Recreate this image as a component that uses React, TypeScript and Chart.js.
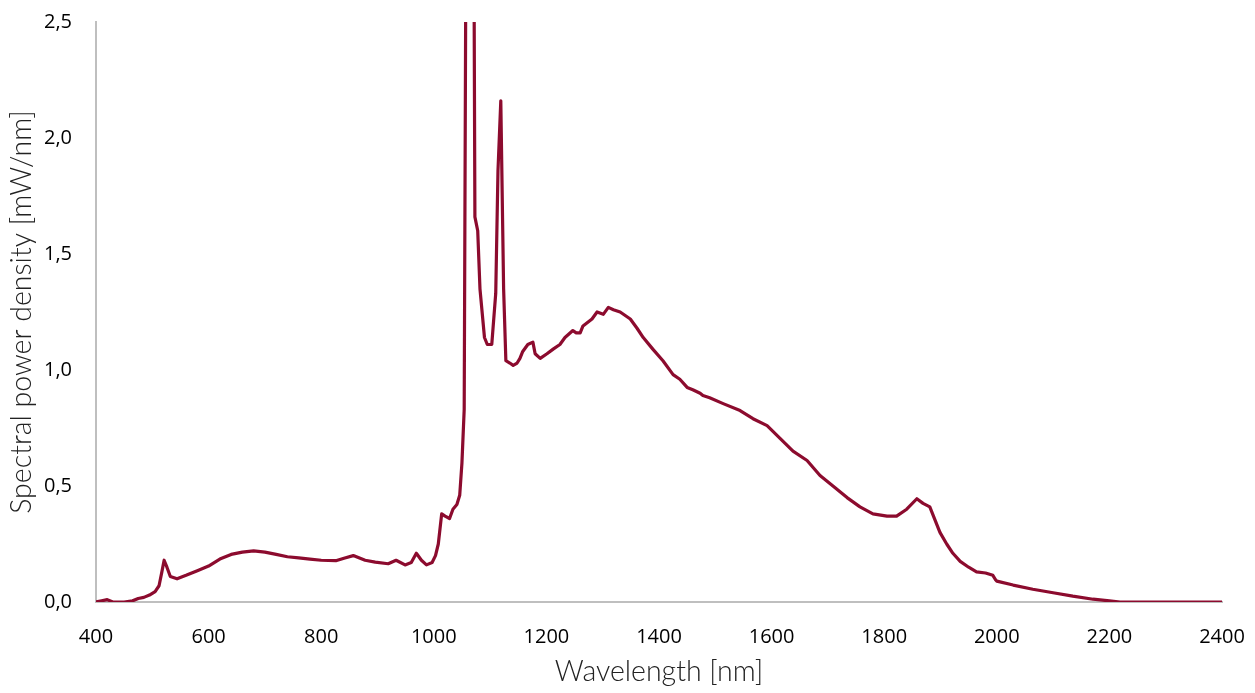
import React, { useEffect, useRef } from "react";
import { Chart, registerables } from "chart.js";

Chart.register(...registerables);

const wavelengthNm = [
  400, 410, 420, 430, 450, 465, 475, 485, 495, 505, 512, 517, 521, 526, 532, 544, 560, 580, 600, 620,
  640, 660, 680, 700, 720, 740, 760, 780, 800, 826, 842, 857, 878, 896, 919, 933, 949, 960, 969, 978,
  987, 997, 1003, 1008, 1014, 1020, 1028, 1034, 1041, 1046, 1050, 1054, 1057, 1064, 1071, 1073, 1078,
  1082, 1090, 1095, 1103, 1110, 1114, 1119, 1124, 1128, 1135, 1141, 1148, 1153, 1158, 1167, 1176, 1180,
  1189, 1201, 1212, 1224, 1233, 1247, 1253, 1260, 1265, 1281, 1290, 1301, 1310, 1319, 1331, 1349, 1361,
  1372, 1389, 1407, 1425, 1437, 1450, 1460, 1473, 1478, 1490, 1514, 1544, 1567, 1592, 1615, 1638, 1663,
  1686, 1709, 1734, 1757, 1780, 1805, 1822, 1840, 1858, 1869, 1881, 1899, 1911, 1922, 1935, 1950, 1964,
  1980, 1993, 1998, 2000, 2029, 2064, 2100, 2135, 2171, 2200, 2219, 2300, 2400,
];

const powerDensity = [
  0.0, 0.005, 0.01, 0.0, 0.0, 0.005, 0.015, 0.02, 0.03, 0.045, 0.07, 0.13, 0.18, 0.15, 0.11, 0.1, 0.115,
  0.135, 0.155, 0.185, 0.205, 0.215, 0.22, 0.215, 0.205, 0.195, 0.19, 0.185, 0.18, 0.178, 0.19, 0.2,
  0.18, 0.172, 0.165, 0.18, 0.16, 0.17, 0.21, 0.18, 0.16, 0.17, 0.2, 0.25, 0.38, 0.37, 0.36, 0.4, 0.42,
  0.46, 0.6, 0.83, 2.8, 3.5, 3.0, 1.66, 1.6, 1.35, 1.14, 1.11, 1.11, 1.33, 1.86, 2.16, 1.35, 1.04, 1.03,
  1.02, 1.03, 1.05, 1.08, 1.11, 1.12, 1.07, 1.05, 1.07, 1.09, 1.11, 1.14, 1.17, 1.16, 1.16, 1.19, 1.22,
  1.25, 1.24, 1.27, 1.26, 1.25, 1.22, 1.18, 1.14, 1.09, 1.04, 0.98, 0.96, 0.925, 0.915, 0.9, 0.89, 0.88,
  0.855, 0.825, 0.79, 0.76, 0.705, 0.65, 0.61, 0.545, 0.5, 0.45, 0.41, 0.38, 0.37, 0.37, 0.4, 0.445,
  0.425, 0.41, 0.3, 0.25, 0.21, 0.175, 0.15, 0.13, 0.125, 0.115, 0.095, 0.09, 0.073, 0.055, 0.04, 0.025,
  0.012, 0.005, 0.0, 0.0, 0.0,
];

const xTitle = "Wavelength [nm]";
const yTitle = "Spectral power density [mW/nm]";

export default function App() {
  const canvasRef = useRef<HTMLCanvasElement | null>(null);

  useEffect(() => {
    document.body.style.margin = "0";
    const canvas = canvasRef.current;
    if (!canvas) return;
    const points = wavelengthNm.map((x, i) => ({ x, y: powerDensity[i] }));
    const tickFont = { family: "'Open Sans', sans-serif", size: 20 };
    const titleFont = { family: "Lato, sans-serif", size: 28.5, weight: "300" as any };
    const chart = new Chart(canvas, {
      type: "line",
      data: {
        datasets: [
          {
            data: points,
            borderColor: "#8c0b2e",
            borderWidth: 3.2,
            pointRadius: 0,
            tension: 0,
            borderJoinStyle: "round",
            fill: false,
          },
        ],
      },
      options: {
        animation: false,
        responsive: false,
        maintainAspectRatio: false,
        layout: { padding: { left: 0, right: 33, top: 22, bottom: 0 } },
        plugins: { legend: { display: false }, tooltip: { enabled: false } },
        scales: {
          x: {
            type: "linear",
            min: 400,
            max: 2400,
            grid: { display: false },
            border: { display: true, color: "#bfbfbf", width: 2 },
            ticks: {
              stepSize: 200,
              color: "#000",
              font: tickFont,
              padding: 15,
              maxRotation: 0,
              callback: (v: any) => String(v),
            },
            title: { display: true, text: xTitle, color: "#222", font: titleFont, padding: { top: 0, bottom: 4 } },
            afterFit: (s: any) => {
              s.height = 91;
              s.paddingLeft = 0;
              s.paddingRight = 0;
            },
          },
          y: {
            type: "linear",
            min: 0,
            max: 2.5,
            grid: { display: false },
            border: { display: true, color: "#bfbfbf", width: 2 },
            ticks: {
              stepSize: 0.5,
              color: "#000",
              font: tickFont,
              padding: 16,
              callback: (v: any) => Number(v).toFixed(1).replace(".", ","),
            },
            title: { display: true, text: yTitle, color: "#222", font: titleFont, padding: { top: 5, bottom: 0 } },
            afterFit: (s: any) => {
              s.width = 96;
              s.paddingTop = 0;
              s.paddingBottom = 0;
            },
          },
        },
      },
    });
    return () => chart.destroy();
  }, []);

  return (
    <div style={{ width: 1255, height: 693 }}>
      <canvas ref={canvasRef} width={1255} height={693} style={{ display: "block" }} />
    </div>
  );
}
